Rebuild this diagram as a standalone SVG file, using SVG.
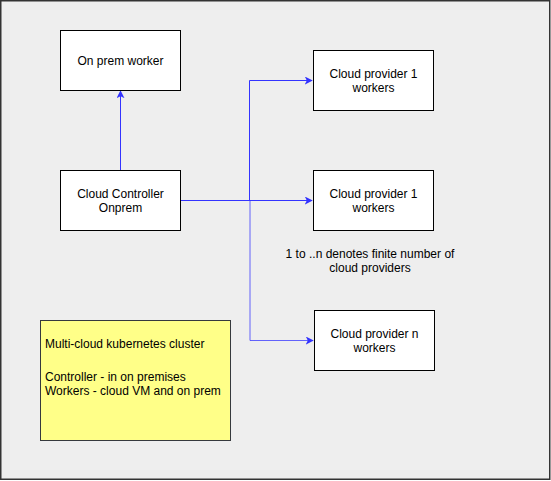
<svg xmlns="http://www.w3.org/2000/svg" width="551" height="481" viewBox="0 0 551 481">
<style>
.box{fill:#ffffff;stroke:#000000;stroke-width:1}
.t{font-family:"Liberation Sans",Arial,Helvetica,sans-serif;font-size:12px;fill:#000000}
.c{text-anchor:middle}
.e{fill:none;stroke:#3333ff;stroke-width:1}
</style>
<defs>
<marker id="arr" viewBox="0 0 10 10" refX="9" refY="5" markerWidth="8" markerHeight="8" markerUnits="userSpaceOnUse" orient="auto">
<path d="M0,0 L10,5 L0,10 L2.5,5 z" fill="#3333ff" stroke="none"/>
</marker>
</defs>
<rect x="0.75" y="0.75" width="549" height="478.5" fill="#eeeeee" stroke="#333333" stroke-width="1.5"/>
<g id="connectors">
<path class="e" d="M120.5,170 L120.5,91" marker-end="url(#arr)"/>
<path class="e" d="M180,200.5 L249.5,200.5 L249.5,80.5 L312,80.5" marker-end="url(#arr)"/>
<path class="e" d="M180,200.5 L312,200.5" marker-end="url(#arr)"/>
<path class="e" d="M249.5,200.5 L250,200.5 L250,340.5 L313,340.5" marker-end="url(#arr)" stroke-opacity="0.75"/>
</g>
<g id="onprem">
<rect class="box" x="60.5" y="30.5" width="120" height="60"/>
<text class="t c" x="120.5" y="64.5">On prem worker</text>
</g>
<g id="controller">
<rect class="box" x="60.5" y="170.5" width="120" height="60"/>
<text class="t c" x="120.5" y="197.5">Cloud Controller</text>
<text class="t c" x="120.5" y="211.5">Onprem</text>
</g>
<g id="cp1a">
<rect class="box" x="313.5" y="50.5" width="120" height="60"/>
<text class="t c" x="373.5" y="77.5">Cloud provider 1</text>
<text class="t c" x="373.5" y="91.5">workers</text>
</g>
<g id="cp1b">
<rect class="box" x="313.5" y="170.5" width="120" height="60"/>
<text class="t c" x="373.5" y="197.5">Cloud provider 1</text>
<text class="t c" x="373.5" y="211.5">workers</text>
</g>
<g id="cpn">
<rect class="box" x="314.5" y="310.5" width="120" height="60"/>
<text class="t c" x="374.5" y="337.5">Cloud provider n</text>
<text class="t c" x="374.5" y="351.5">workers</text>
</g>
<g id="note-providers">
<text class="t c" x="370" y="258">1 to ..n denotes finite number of</text>
<text class="t c" x="370" y="272">cloud providers</text>
</g>
<g id="note">
<rect x="40.5" y="320.5" width="190" height="120" fill="#ffff88" stroke="#36393d" stroke-width="1"/>
<text class="t" x="45" y="348">Multi-cloud kubernetes cluster</text>
<text class="t" x="45" y="381">Controller - in on premises</text>
<text class="t" x="45" y="395">Workers - cloud VM and on prem</text>
</g>
</svg>
